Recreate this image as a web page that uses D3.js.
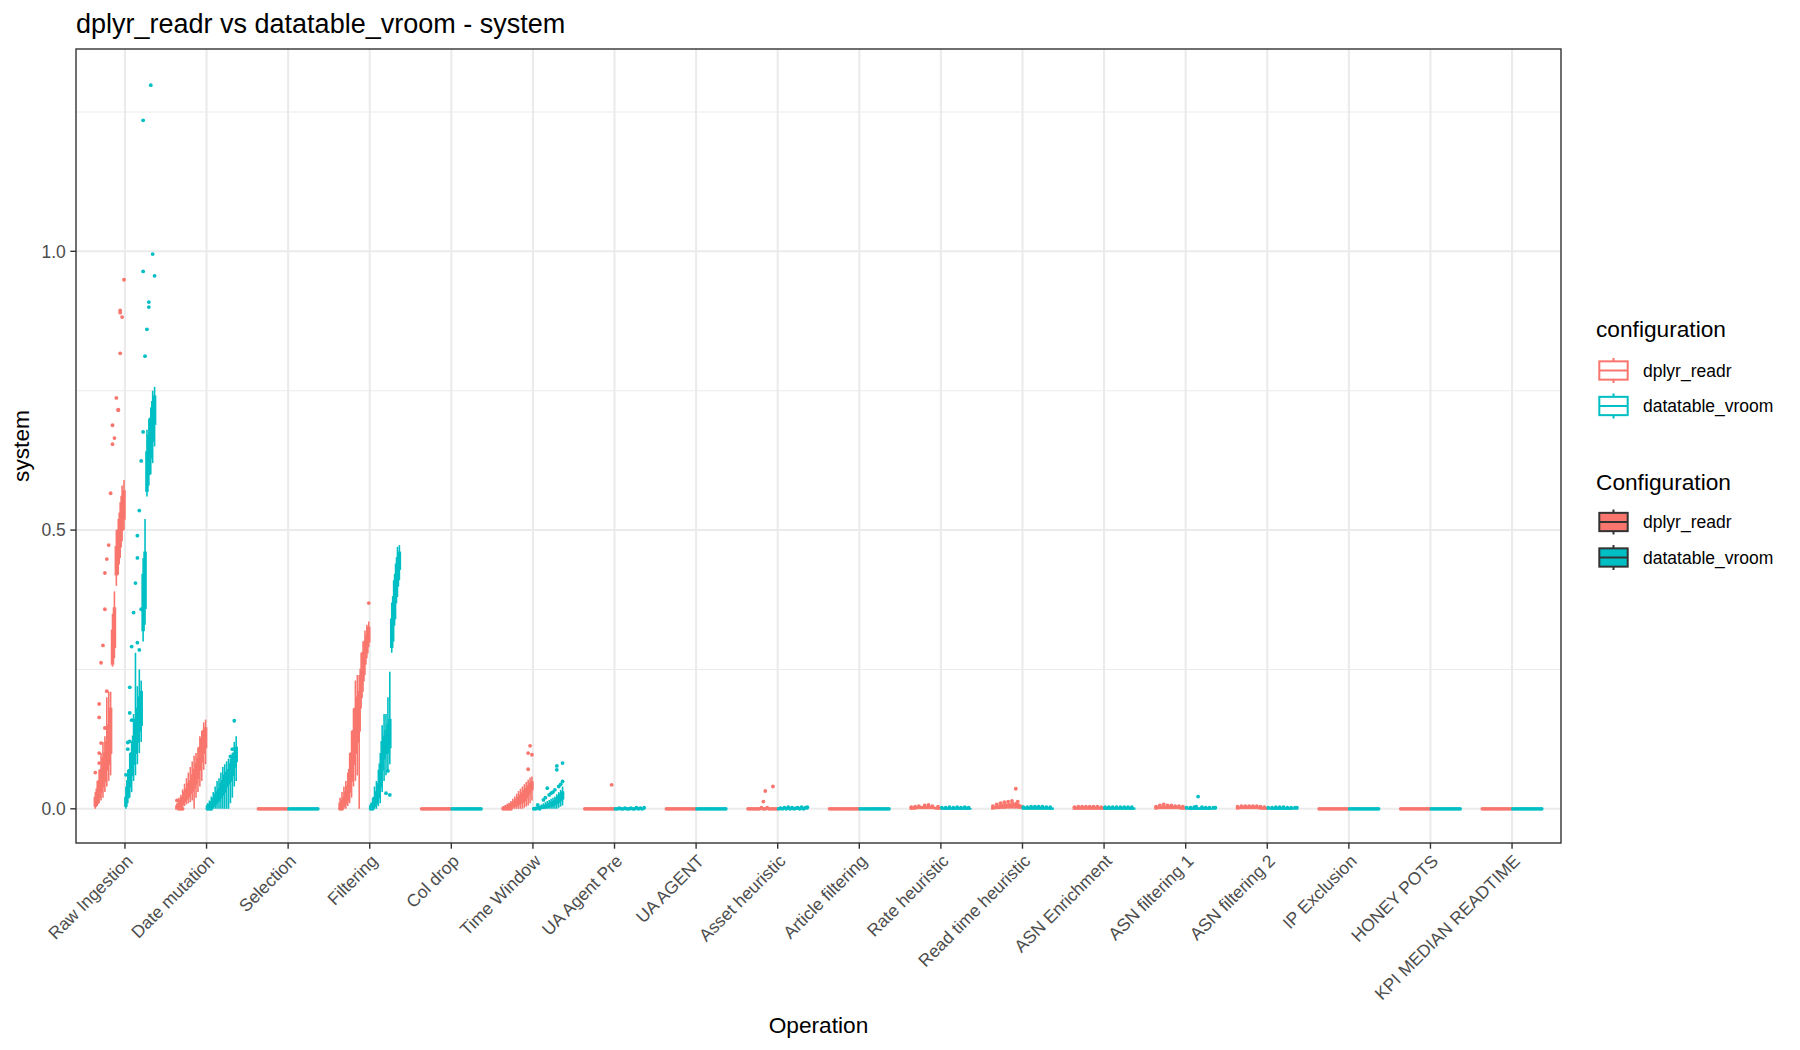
<!DOCTYPE html>
<html><head><meta charset="utf-8">
<script src="https://cdn.jsdelivr.net/npm/d3@7"></script>
<style>body{margin:0;background:#fff} svg text{font-family:"Liberation Sans",Arial,Helvetica,sans-serif}</style>
</head><body><svg id="chart" width="1800" height="1050"></svg>
<script>
// ---------------- data ----------------
const operations = ["Raw Ingestion","Date mutation","Selection","Filtering","Col drop","Time Window","UA Agent Pre","UA AGENT","Asset heuristic","Article filtering","Rate heuristic","Read time heuristic","ASN Enrichment","ASN filtering 1","ASN filtering 2","IP Exclusion","HONEY POTS","KPI MEDIAN READTIME"];
const configurations = ["dplyr_readr","datatable_vroom"];
const configColors = ["#F8766D","#00BFC4"];
const yMajorTicks = [0, 0.5, 1.0];
const yTickLabels = ["0.0","0.5","1.0"];
const yMinorTicks = [0.25, 0.75, 1.25];
const plotTitle = "dplyr_readr vs datatable_vroom - system";
const xTitle = "Operation";
const yTitle = "system";

// Each box: [lowerWhisker, q1, median, q3, upperWhisker, [outliers]] ; 16 runs per configuration
const dplyrBoxes = [
 /* Raw Ingestion */ [[0,0.005,0.01,0.02,0.03,[0.065]],[0.005,0.01,0.02,0.035,0.05,[]],[0.01,0.02,0.035,0.05,0.07,[0.082,0.1,0.164,0.188]],[0.015,0.03,0.05,0.07,0.1,[0.118,0.262]],[0.02,0.04,0.06,0.09,0.12,[0.293]],[0.03,0.05,0.075,0.1,0.13,[0.145,0.358,0.423]],[0.04,0.07,0.09,0.12,0.2,[0.211,0.448]],[0.05,0.08,0.11,0.15,0.21,[0.473]],[0.06,0.1,0.14,0.18,0.21,[0.566]],[0.255,0.26,0.29,0.32,0.35,[0.654,0.688]],[0.27,0.29,0.33,0.36,0.39,[0.665]],[0.4,0.42,0.44,0.47,0.5,[0.737]],[0.42,0.44,0.47,0.5,0.52,[0.715,0.716]],[0.45,0.47,0.5,0.53,0.55,[0.894,0.89,0.817]],[0.48,0.5,0.53,0.56,0.58,[0.882]],[0.5,0.52,0.55,0.57,0.59,[0.949]]],
 /* Date mutation */ [[0,0,0.002,0.005,0.01,[0.015]],[0,0.002,0.005,0.01,0.02,[0]],[0,0.005,0.01,0.015,0.025,[0]],[0.002,0.008,0.013,0.02,0.035,[0]],[0.005,0.013,0.02,0.03,0.045,[]],[0.008,0.018,0.025,0.035,0.055,[]],[0.01,0.022,0.032,0.045,0.065,[]],[0.012,0.028,0.038,0.05,0.075,[]],[0.015,0.032,0.045,0.06,0.085,[]],[0,0.038,0.052,0.07,0.095,[]],[0.02,0.045,0.06,0.08,0.1,[]],[0.03,0.055,0.072,0.09,0.11,[]],[0.04,0.07,0.09,0.11,0.13,[]],[0.05,0.085,0.105,0.125,0.14,[]],[0.07,0.1,0.12,0.14,0.155,[]],[0.08,0.11,0.13,0.145,0.16,[]]],
 /* Selection */ [[0,0,0,0,0,[0]],[0,0,0,0,0,[0]],[0,0,0,0,0,[0]],[0,0,0,0,0,[0]],[0,0,0,0,0,[0]],[0,0,0,0,0,[0]],[0,0,0,0,0,[0]],[0,0,0,0,0,[0]],[0,0,0,0,0,[0]],[0,0,0,0,0,[0]],[0,0,0,0,0,[0]],[0,0,0,0,0,[0]],[0,0,0,0,0,[0]],[0,0,0,0,0,[0]],[0,0,0,0,0,[0]],[0,0,0,0,0,[0]]],
 /* Filtering */ [[0,0,0.003,0.01,0.02,[0]],[0,0,0.006,0.015,0.03,[0]],[0,0.005,0.012,0.02,0.04,[]],[0,0.01,0.02,0.03,0.05,[]],[0.005,0.015,0.028,0.04,0.065,[]],[0.01,0.03,0.05,0.07,0.1,[]],[0.02,0.05,0.075,0.1,0.14,[]],[0.04,0.08,0.11,0.14,0.18,[]],[0.05,0.1,0.14,0.18,0.23,[]],[0.06,0.12,0.16,0.2,0.24,[]],[0,0.14,0.18,0.21,0.24,[]],[0.18,0.2,0.225,0.25,0.28,[]],[0.21,0.23,0.255,0.28,0.3,[]],[0.24,0.26,0.28,0.3,0.32,[]],[0.27,0.28,0.295,0.31,0.33,[]],[0.29,0.3,0.315,0.325,0.336,[0.369]]],
 /* Col drop */ [[0,0,0,0,0,[0]],[0,0,0,0,0,[0]],[0,0,0,0,0,[0]],[0,0,0,0,0,[0]],[0,0,0,0,0,[0]],[0,0,0,0,0,[0]],[0,0,0,0,0,[0]],[0,0,0,0,0,[0]],[0,0,0,0,0,[0]],[0,0,0,0,0,[0]],[0,0,0,0,0,[0]],[0,0,0,0,0,[0]],[0,0,0,0,0,[0]],[0,0,0,0,0,[0]],[0,0,0,0,0,[0]],[0,0,0,0,0,[0]]],
 /* Time Window */ [[0,0,0.001,0.002,0.005,[0]],[0,0,0.001,0.003,0.007,[0]],[0,0.001,0.002,0.004,0.009,[0]],[0,0.002,0.004,0.006,0.011,[0]],[0,0.003,0.005,0.008,0.014,[0]],[0,0.004,0.007,0.01,0.018,[]],[0,0.005,0.009,0.013,0.022,[]],[0,0.006,0.011,0.016,0.027,[]],[0,0.008,0.014,0.02,0.032,[]],[0,0.01,0.017,0.024,0.036,[]],[0,0.012,0.02,0.028,0.04,[]],[0.002,0.015,0.023,0.032,0.044,[]],[0.004,0.02,0.028,0.036,0.048,[]],[0.006,0.025,0.032,0.04,0.052,[0.071,0.1]],[0.01,0.03,0.037,0.045,0.056,[0.113]],[0.015,0.035,0.042,0.048,0.058,[0.097]]],
 /* UA Agent Pre */ [[0,0,0,0,0,[0]],[0,0,0,0,0,[0]],[0,0,0,0,0,[0]],[0,0,0,0,0,[0]],[0,0,0,0,0,[0]],[0,0,0,0,0,[0]],[0,0,0,0,0,[0]],[0,0,0,0,0,[0]],[0,0,0,0,0,[0]],[0,0,0,0,0,[0]],[0,0,0,0,0,[0]],[0,0,0,0,0,[0]],[0,0,0,0,0,[0]],[0,0,0,0,0,[0]],[0,0,0,0,0,[0,0.043]],[0,0,0,0,0,[0]]],
 /* UA AGENT */ [[0,0,0,0,0,[0]],[0,0,0,0,0,[0]],[0,0,0,0,0,[0]],[0,0,0,0,0,[0]],[0,0,0,0,0,[0]],[0,0,0,0,0,[0]],[0,0,0,0,0,[0]],[0,0,0,0,0,[0]],[0,0,0,0,0,[0]],[0,0,0,0,0,[0]],[0,0,0,0,0,[0]],[0,0,0,0,0,[0]],[0,0,0,0,0,[0]],[0,0,0,0,0,[0]],[0,0,0,0,0,[0]],[0,0,0,0,0,[0]]],
 /* Asset heuristic */ [[0,0,0,0,0,[0]],[0,0,0,0,0,[0]],[0,0,0,0,0,[0]],[0,0,0,0,0,[0]],[0,0,0,0,0,[0]],[0,0,0,0,0,[0]],[0,0,0,0,0,[0]],[0,0,0,0,0,[0.002]],[0,0,0,0,0,[0,0.013]],[0,0,0,0,0,[0,0.032]],[0,0,0,0,0,[0.002]],[0,0,0,0,0,[0]],[0,0,0,0,0,[0]],[0,0,0,0,0,[0,0.04]],[0,0,0,0,0,[0]],[0,0,0,0,0,[0]]],
 /* Article filtering */ [[0,0,0,0,0,[0]],[0,0,0,0,0,[0]],[0,0,0,0,0,[0]],[0,0,0,0,0,[0]],[0,0,0,0,0,[0]],[0,0,0,0,0,[0]],[0,0,0,0,0,[0]],[0,0,0,0,0,[0]],[0,0,0,0,0,[0]],[0,0,0,0,0,[0]],[0,0,0,0,0,[0]],[0,0,0,0,0,[0]],[0,0,0,0,0,[0]],[0,0,0,0,0,[0]],[0,0,0,0,0,[0]],[0,0,0,0,0,[0]]],
 /* Rate heuristic */ [[0,0,0,0.001,0.002,[0.003]],[0,0,0.001,0.002,0.003,[]],[0,0,0.001,0.002,0.003,[0.004]],[0,0.001,0.001,0.002,0.004,[]],[0,0.001,0.002,0.003,0.004,[0.005]],[0,0.001,0.002,0.003,0.004,[]],[0,0.001,0.002,0.003,0.005,[]],[0,0.001,0.002,0.003,0.005,[0.006]],[0,0.001,0.002,0.003,0.005,[]],[0,0.001,0.002,0.003,0.005,[0.007]],[0,0.001,0.002,0.003,0.004,[]],[0,0.001,0.002,0.003,0.004,[0.005]],[0,0.001,0.001,0.002,0.004,[]],[0,0,0.001,0.002,0.003,[]],[0,0,0.001,0.002,0.003,[0.004]],[0,0,0.001,0.001,0.002,[]]],
 /* Read time heuristic */ [[0,0,0.001,0.002,0.004,[0.005]],[0,0.001,0.002,0.003,0.005,[]],[0,0.001,0.002,0.004,0.006,[0.008]],[0,0.001,0.003,0.004,0.007,[]],[0,0.002,0.003,0.005,0.008,[0.01]],[0,0.002,0.004,0.006,0.009,[]],[0,0.002,0.004,0.006,0.01,[0.012]],[0,0.003,0.005,0.007,0.01,[]],[0,0.003,0.005,0.007,0.011,[0.013]],[0,0.003,0.005,0.008,0.011,[]],[0,0.003,0.006,0.008,0.012,[0.014]],[0,0.004,0.006,0.008,0.012,[]],[0,0.004,0.006,0.009,0.012,[0.036]],[0,0.003,0.005,0.008,0.011,[0.013]],[0,0.002,0.004,0.006,0.009,[]],[0,0.001,0.003,0.005,0.007,[]]],
 /* ASN Enrichment */ [[0,0,0,0.001,0.002,[0.003]],[0,0,0.001,0.001,0.002,[]],[0,0,0.001,0.002,0.003,[0.004]],[0,0,0.001,0.002,0.003,[]],[0,0,0.001,0.002,0.003,[0.004]],[0,0,0.001,0.002,0.003,[]],[0,0,0.001,0.002,0.003,[0.004]],[0,0,0.001,0.002,0.003,[]],[0,0,0.001,0.002,0.003,[0.004]],[0,0,0.001,0.002,0.003,[]],[0,0,0.001,0.002,0.003,[0.004]],[0,0,0.001,0.002,0.003,[]],[0,0,0.001,0.002,0.003,[0.004]],[0,0,0.001,0.002,0.003,[]],[0,0,0.001,0.001,0.002,[0.003]],[0,0,0,0.001,0.002,[]]],
 /* ASN filtering 1 */ [[0,0,0.001,0.002,0.003,[0.004]],[0,0.001,0.001,0.002,0.004,[]],[0,0.001,0.002,0.003,0.004,[0.006]],[0,0.001,0.002,0.003,0.005,[]],[0,0.001,0.002,0.004,0.006,[0.008]],[0,0.001,0.002,0.003,0.005,[]],[0,0.001,0.002,0.003,0.005,[0.006]],[0,0.001,0.002,0.003,0.005,[]],[0,0.001,0.002,0.003,0.004,[0.006]],[0,0.001,0.002,0.003,0.004,[]],[0,0.001,0.002,0.003,0.004,[0.005]],[0,0.001,0.002,0.003,0.004,[]],[0,0.001,0.001,0.002,0.004,[0.005]],[0,0,0.001,0.002,0.003,[]],[0,0,0.001,0.002,0.003,[0.004]],[0,0,0.001,0.001,0.002,[]]],
 /* ASN filtering 2 */ [[0,0,0.001,0.002,0.003,[0.004]],[0,0.001,0.001,0.002,0.003,[]],[0,0.001,0.002,0.003,0.004,[0.005]],[0,0.001,0.002,0.003,0.004,[]],[0,0.001,0.002,0.003,0.004,[0.005]],[0,0.001,0.002,0.003,0.004,[]],[0,0.001,0.002,0.003,0.004,[0.005]],[0,0.001,0.002,0.003,0.004,[]],[0,0.001,0.002,0.003,0.004,[0.005]],[0,0.001,0.002,0.003,0.004,[]],[0,0.001,0.002,0.003,0.004,[0.005]],[0,0.001,0.001,0.002,0.003,[]],[0,0,0.001,0.002,0.003,[0.004]],[0,0,0.001,0.002,0.003,[]],[0,0,0.001,0.001,0.002,[0.003]],[0,0,0,0.001,0.002,[]]],
 /* IP Exclusion */ [[0,0,0,0,0,[0]],[0,0,0,0,0,[0]],[0,0,0,0,0,[0]],[0,0,0,0,0,[0]],[0,0,0,0,0,[0]],[0,0,0,0,0,[0]],[0,0,0,0,0,[0]],[0,0,0,0,0,[0]],[0,0,0,0,0,[0]],[0,0,0,0,0,[0]],[0,0,0,0,0,[0]],[0,0,0,0,0,[0]],[0,0,0,0,0,[0]],[0,0,0,0,0,[0]],[0,0,0,0,0,[0]],[0,0,0,0,0,[0]]],
 /* HONEY POTS */ [[0,0,0,0,0,[0]],[0,0,0,0,0,[0]],[0,0,0,0,0,[0]],[0,0,0,0,0,[0]],[0,0,0,0,0,[0]],[0,0,0,0,0,[0]],[0,0,0,0,0,[0]],[0,0,0,0,0,[0]],[0,0,0,0,0,[0]],[0,0,0,0,0,[0]],[0,0,0,0,0,[0]],[0,0,0,0,0,[0]],[0,0,0,0,0,[0]],[0,0,0,0,0,[0]],[0,0,0,0,0,[0]],[0,0,0,0,0,[0]]],
 /* KPI MEDIAN READTIME */ [[0,0,0,0,0,[0]],[0,0,0,0,0,[0]],[0,0,0,0,0,[0]],[0,0,0,0,0,[0]],[0,0,0,0,0,[0]],[0,0,0,0,0,[0]],[0,0,0,0,0,[0]],[0,0,0,0,0,[0]],[0,0,0,0,0,[0]],[0,0,0,0,0,[0]],[0,0,0,0,0,[0]],[0,0,0,0,0,[0]],[0,0,0,0,0,[0]],[0,0,0,0,0,[0]],[0,0,0,0,0,[0]],[0,0,0,0,0,[0]]]
];

const vroomBoxes = [
 /* Raw Ingestion */ [[0,0.005,0.01,0.02,0.04,[0.061]],[0.01,0.02,0.03,0.05,0.07,[0.107,0.119]],[0.02,0.04,0.05,0.07,0.1,[0.121,0.172,0.218]],[0.03,0.06,0.08,0.1,0.12,[0.159,0.291]],[0.05,0.08,0.1,0.13,0.17,[0.352]],[0.06,0.1,0.13,0.16,0.28,[0.405]],[0.08,0.12,0.15,0.18,0.22,[0.298,0.45,0.49]],[0.1,0.14,0.17,0.2,0.25,[0.285,0.535]],[0.12,0.15,0.18,0.21,0.23,[0.358,0.624]],[0.3,0.32,0.36,0.42,0.45,[0.676,0.964,1.235]],[0.33,0.36,0.41,0.46,0.52,[0.812]],[0.56,0.57,0.6,0.64,0.68,[0.86]],[0.58,0.6,0.64,0.67,0.7,[0.9,0.909]],[0.6,0.63,0.66,0.7,0.72,[1.298]],[0.62,0.66,0.69,0.73,0.75,[0.995]],[0.65,0.69,0.72,0.74,0.757,[0.956]]],
 /* Date mutation */ [[0,0,0.002,0.005,0.01,[0]],[0,0,0.004,0.008,0.015,[0]],[0,0.002,0.006,0.012,0.022,[0]],[0,0.005,0.01,0.018,0.03,[]],[0,0.008,0.015,0.025,0.04,[]],[0,0.012,0.02,0.03,0.05,[]],[0,0.015,0.025,0.035,0.055,[]],[0,0.02,0.032,0.045,0.065,[]],[0,0.025,0.038,0.05,0.075,[]],[0,0.03,0.045,0.06,0.08,[]],[0,0.04,0.052,0.065,0.085,[]],[0,0.045,0.058,0.07,0.09,[]],[0.01,0.05,0.065,0.08,0.09,[0.094]],[0.02,0.06,0.075,0.09,0.1,[0.107]],[0.04,0.075,0.088,0.1,0.12,[0.158]],[0.05,0.085,0.1,0.11,0.13,[]]],
 /* Selection */ [[0,0,0,0,0,[0]],[0,0,0,0,0,[0]],[0,0,0,0,0,[0]],[0,0,0,0,0,[0]],[0,0,0,0,0,[0]],[0,0,0,0,0,[0]],[0,0,0,0,0,[0]],[0,0,0,0,0,[0]],[0,0,0,0,0,[0]],[0,0,0,0,0,[0]],[0,0,0,0,0,[0]],[0,0,0,0,0,[0]],[0,0,0,0,0,[0]],[0,0,0,0,0,[0]],[0,0,0,0,0,[0]],[0,0,0,0,0,[0]]],
 /* Filtering */ [[0,0,0.002,0.005,0.01,[0]],[0,0,0.004,0.01,0.02,[0]],[0,0.005,0.01,0.02,0.04,[]],[0,0.01,0.02,0.03,0.05,[]],[0.005,0.02,0.03,0.045,0.07,[]],[0.01,0.04,0.06,0.08,0.1,[]],[0.03,0.07,0.09,0.12,0.15,[]],[0.05,0.09,0.11,0.13,0.17,[]],[0.06,0.1,0.12,0.14,0.17,[0.028]],[0.07,0.1,0.125,0.15,0.2,[0.068]],[0.08,0.11,0.135,0.16,0.246,[0.025]],[0.28,0.29,0.315,0.34,0.37,[]],[0.3,0.33,0.355,0.38,0.41,[]],[0.34,0.37,0.395,0.42,0.44,[]],[0.38,0.4,0.425,0.45,0.47,[]],[0.41,0.43,0.45,0.46,0.473,[]]],
 /* Col drop */ [[0,0,0,0,0,[0]],[0,0,0,0,0,[0]],[0,0,0,0,0,[0]],[0,0,0,0,0,[0]],[0,0,0,0,0,[0]],[0,0,0,0,0,[0]],[0,0,0,0,0,[0]],[0,0,0,0,0,[0]],[0,0,0,0,0,[0]],[0,0,0,0,0,[0]],[0,0,0,0,0,[0]],[0,0,0,0,0,[0]],[0,0,0,0,0,[0]],[0,0,0,0,0,[0]],[0,0,0,0,0,[0]],[0,0,0,0,0,[0]]],
 /* Time Window */ [[0,0,0,0.001,0.003,[0]],[0,0,0.001,0.002,0.004,[0]],[0,0,0.001,0.002,0.005,[0.007]],[0,0.001,0.002,0.003,0.006,[0]],[0,0.001,0.002,0.004,0.008,[]],[0,0.002,0.003,0.005,0.01,[0.016]],[0,0.002,0.004,0.006,0.012,[0.02]],[0,0.003,0.005,0.008,0.014,[0.037]],[0,0.004,0.006,0.009,0.016,[0.025]],[0,0.005,0.008,0.011,0.018,[0.028]],[0,0.006,0.009,0.013,0.02,[0.03]],[0,0.008,0.011,0.015,0.022,[0.034]],[0,0.01,0.014,0.018,0.026,[0.07,0.077]],[0.002,0.012,0.017,0.022,0.03,[0.04]],[0.004,0.015,0.02,0.026,0.034,[0.044]],[0.006,0.018,0.024,0.03,0.04,[0.049,0.082]]],
 /* UA Agent Pre */ [[0,0,0,0,0,[0]],[0,0,0,0,0,[0]],[0,0,0,0,0,[0.001]],[0,0,0,0,0,[0]],[0,0,0,0,0,[0]],[0,0,0,0,0,[0.001]],[0,0,0,0,0,[0]],[0,0,0,0,0,[0]],[0,0,0,0,0,[0.001]],[0,0,0,0,0,[0]],[0,0,0,0,0,[0]],[0,0,0,0,0,[0.002]],[0,0,0,0,0,[0]],[0,0,0,0,0,[0.001]],[0,0,0,0,0,[0]],[0,0,0,0,0,[0.002]]],
 /* UA AGENT */ [[0,0,0,0,0,[0]],[0,0,0,0,0,[0]],[0,0,0,0,0,[0]],[0,0,0,0,0,[0]],[0,0,0,0,0,[0]],[0,0,0,0,0,[0]],[0,0,0,0,0,[0]],[0,0,0,0,0,[0]],[0,0,0,0,0,[0]],[0,0,0,0,0,[0]],[0,0,0,0,0,[0]],[0,0,0,0,0,[0]],[0,0,0,0,0,[0]],[0,0,0,0,0,[0]],[0,0,0,0,0,[0]],[0,0,0,0,0,[0]]],
 /* Asset heuristic */ [[0,0,0,0,0,[0]],[0,0,0,0,0,[0.001]],[0,0,0,0,0,[0]],[0,0,0,0,0,[0.002]],[0,0,0,0,0,[0]],[0,0,0,0,0,[0.003]],[0,0,0,0,0,[0]],[0,0,0,0,0,[0.002]],[0,0,0,0,0,[0]],[0,0,0,0,0,[0.001]],[0,0,0,0,0,[0.002]],[0,0,0,0,0,[0]],[0,0,0,0,0,[0.003]],[0,0,0,0,0,[0]],[0,0,0,0,0,[0.002]],[0,0,0,0,0,[0.003]]],
 /* Article filtering */ [[0,0,0,0,0,[0]],[0,0,0,0,0,[0]],[0,0,0,0,0,[0]],[0,0,0,0,0,[0]],[0,0,0,0,0,[0]],[0,0,0,0,0,[0]],[0,0,0,0,0,[0]],[0,0,0,0,0,[0]],[0,0,0,0,0,[0]],[0,0,0,0,0,[0]],[0,0,0,0,0,[0]],[0,0,0,0,0,[0]],[0,0,0,0,0,[0]],[0,0,0,0,0,[0]],[0,0,0,0,0,[0]],[0,0,0,0,0,[0]]],
 /* Rate heuristic */ [[0,0,0,0,0.001,[0.002]],[0,0,0,0.001,0.001,[]],[0,0,0,0.001,0.002,[0.002]],[0,0,0,0.001,0.001,[]],[0,0,0.001,0.001,0.002,[0.003]],[0,0,0,0.001,0.001,[]],[0,0,0,0.001,0.002,[0.002]],[0,0,0,0.001,0.001,[]],[0,0,0.001,0.001,0.002,[0.003]],[0,0,0,0.001,0.001,[]],[0,0,0,0.001,0.002,[0.002]],[0,0,0,0.001,0.001,[]],[0,0,0.001,0.001,0.002,[0.003]],[0,0,0,0.001,0.001,[]],[0,0,0,0.001,0.002,[0.002]],[0,0,0,0,0.001,[]]],
 /* Read time heuristic */ [[0,0,0,0.001,0.002,[0.003]],[0,0,0.001,0.001,0.002,[]],[0,0,0.001,0.001,0.002,[0.003]],[0,0,0.001,0.002,0.003,[]],[0,0,0.001,0.002,0.003,[0.004]],[0,0,0.001,0.002,0.003,[]],[0,0,0.001,0.002,0.003,[0.004]],[0,0,0.001,0.002,0.003,[]],[0,0,0.001,0.002,0.003,[0.004]],[0,0,0.001,0.002,0.003,[]],[0,0,0.001,0.002,0.003,[0.004]],[0,0,0.001,0.001,0.002,[]],[0,0,0.001,0.001,0.002,[0.003]],[0,0,0.001,0.001,0.002,[]],[0,0,0,0.001,0.002,[0.003]],[0,0,0,0.001,0.001,[]]],
 /* ASN Enrichment */ [[0,0,0,0.001,0.002,[0.003]],[0,0,0,0.001,0.001,[]],[0,0,0.001,0.001,0.002,[0.003]],[0,0,0,0.001,0.002,[]],[0,0,0.001,0.001,0.002,[0.003]],[0,0,0,0.001,0.002,[]],[0,0,0.001,0.001,0.002,[0.003]],[0,0,0,0.001,0.002,[]],[0,0,0.001,0.001,0.002,[0.003]],[0,0,0,0.001,0.002,[]],[0,0,0.001,0.001,0.002,[0.003]],[0,0,0,0.001,0.002,[]],[0,0,0.001,0.001,0.002,[0.003]],[0,0,0,0.001,0.002,[]],[0,0,0,0.001,0.002,[0.003]],[0,0,0,0.001,0.001,[]]],
 /* ASN filtering 1 */ [[0,0,0,0,0.001,[0.002]],[0,0,0,0,0.001,[]],[0,0,0,0.001,0.001,[0.002]],[0,0,0,0.001,0.002,[]],[0,0,0,0.001,0.002,[0.003]],[0,0,0,0.001,0.002,[0.004]],[0,0,0,0.001,0.002,[0.022]],[0,0,0,0.001,0.002,[]],[0,0,0,0.001,0.002,[0.003]],[0,0,0,0.001,0.001,[]],[0,0,0,0.001,0.001,[0.002]],[0,0,0,0.001,0.001,[]],[0,0,0,0.001,0.001,[0.002]],[0,0,0,0,0.001,[]],[0,0,0,0,0.001,[0.002]],[0,0,0,0,0.001,[0.002]]],
 /* ASN filtering 2 */ [[0,0,0,0,0.001,[0.002]],[0,0,0,0,0.001,[]],[0,0,0,0.001,0.001,[0.002]],[0,0,0,0.001,0.002,[]],[0,0,0,0.001,0.002,[0.003]],[0,0,0,0.001,0.002,[]],[0,0,0,0.001,0.002,[0.003]],[0,0,0,0.001,0.002,[]],[0,0,0,0.001,0.002,[0.003]],[0,0,0,0.001,0.001,[]],[0,0,0,0.001,0.001,[0.002]],[0,0,0,0.001,0.001,[]],[0,0,0,0.001,0.001,[0.002]],[0,0,0,0,0.001,[]],[0,0,0,0,0.001,[0.002]],[0,0,0,0,0.001,[0.002]]],
 /* IP Exclusion */ [[0,0,0,0,0,[0]],[0,0,0,0,0,[0]],[0,0,0,0,0,[0]],[0,0,0,0,0,[0]],[0,0,0,0,0,[0]],[0,0,0,0,0,[0]],[0,0,0,0,0,[0]],[0,0,0,0,0,[0]],[0,0,0,0,0,[0]],[0,0,0,0,0,[0]],[0,0,0,0,0,[0]],[0,0,0,0,0,[0]],[0,0,0,0,0,[0]],[0,0,0,0,0,[0]],[0,0,0,0,0,[0]],[0,0,0,0,0,[0]]],
 /* HONEY POTS */ [[0,0,0,0,0,[0]],[0,0,0,0,0,[0]],[0,0,0,0,0,[0]],[0,0,0,0,0,[0]],[0,0,0,0,0,[0]],[0,0,0,0,0,[0]],[0,0,0,0,0,[0]],[0,0,0,0,0,[0]],[0,0,0,0,0,[0]],[0,0,0,0,0,[0]],[0,0,0,0,0,[0]],[0,0,0,0,0,[0]],[0,0,0,0,0,[0]],[0,0,0,0,0,[0]],[0,0,0,0,0,[0]],[0,0,0,0,0,[0]]],
 /* KPI MEDIAN READTIME */ [[0,0,0,0,0,[0]],[0,0,0,0,0,[0]],[0,0,0,0,0,[0]],[0,0,0,0,0,[0]],[0,0,0,0,0,[0]],[0,0,0,0,0,[0]],[0,0,0,0,0,[0]],[0,0,0,0,0,[0]],[0,0,0,0,0,[0]],[0,0,0,0,0,[0]],[0,0,0,0,0,[0]],[0,0,0,0,0,[0]],[0,0,0,0,0,[0]],[0,0,0,0,0,[0]],[0,0,0,0,0,[0]],[0,0,0,0,0,[0]]]
];

// ---------------- layout ----------------
const W = 1800, H = 1050;
const panel = {left: 76, right: 1561, top: 49, bottom: 843};
const tickLen = 5.7;
const svg = d3.select("#chart");
svg.append("rect").attr("width", W).attr("height", H).attr("fill", "#fff");

const boxSets = [dplyrBoxes, vroomBoxes];
const runsPerConfig = dplyrBoxes[0].length;

const records = [];
boxSets.forEach((set, ci) => set.forEach((boxes, oi) => boxes.forEach((b, ri) => {
  records.push({op: operations[oi], cfg: ci, group: ci * runsPerConfig + ri,
    lo: b[0], q1: b[1], med: b[2], q3: b[3], hi: b[4], out: b[5] || []});
})));

const allVals = [];
records.forEach(r => { allVals.push(r.lo, r.hi); r.out.forEach(v => allVals.push(v)); });
const vMin = d3.min(allVals), vMax = d3.max(allVals), span = vMax - vMin;

const x = d3.scaleBand().domain(operations).range([panel.left, panel.right]).paddingInner(0).paddingOuter(0.1);
const step = x.step();
const xg = d3.scaleBand().domain(d3.range(runsPerConfig * 2)).range([-0.375 * step, 0.375 * step]);
const y = d3.scaleLinear().domain([vMin - 0.05 * span, vMax + 0.05 * span]).range([panel.bottom + 2, panel.top]);
const color = d3.scaleOrdinal().domain([0, 1]).range(configColors);

const cx = (op) => x(op) + x.bandwidth() / 2;

// grid
const grid = svg.append("g");
grid.selectAll("line.minor").data(yMinorTicks).join("line")
  .attr("x1", panel.left).attr("x2", panel.right).attr("y1", d => y(d)).attr("y2", d => y(d))
  .attr("stroke", "#EBEBEB").attr("stroke-width", 1.1);
grid.selectAll("line.major").data(yMajorTicks).join("line")
  .attr("x1", panel.left).attr("x2", panel.right).attr("y1", d => y(d)).attr("y2", d => y(d))
  .attr("stroke", "#EBEBEB").attr("stroke-width", 2.1);
grid.selectAll("line.vmajor").data(operations).join("line")
  .attr("x1", d => cx(d)).attr("x2", d => cx(d)).attr("y1", panel.top).attr("y2", panel.bottom)
  .attr("stroke", "#EBEBEB").attr("stroke-width", 2.1);

// boxes
const bw = xg.bandwidth();
const lw = 1.6;
const marks = svg.append("g");
const gBox = marks.selectAll("g.box").data(records).join("g")
  .attr("transform", d => `translate(${cx(d.op) + xg(d.group) + xg.bandwidth() / 2},0)`);
gBox.append("line").attr("x1", 0).attr("x2", 0).attr("y1", d => y(d.lo)).attr("y2", d => y(d.q1))
  .attr("stroke", d => color(d.cfg)).attr("stroke-width", lw);
gBox.append("line").attr("x1", 0).attr("x2", 0).attr("y1", d => y(d.q3)).attr("y2", d => y(d.hi))
  .attr("stroke", d => color(d.cfg)).attr("stroke-width", lw);
gBox.append("rect").attr("x", -bw / 2).attr("width", bw)
  .attr("y", d => y(d.q3)).attr("height", d => Math.max(0, y(d.q1) - y(d.q3)))
  .attr("fill", d => color(d.cfg)).attr("stroke", d => color(d.cfg)).attr("stroke-width", lw);
gBox.append("line").attr("x1", -bw / 2).attr("x2", bw / 2).attr("y1", d => y(d.med)).attr("y2", d => y(d.med))
  .attr("stroke", d => color(d.cfg)).attr("stroke-width", lw);
gBox.selectAll("circle").data(d => d.out.map(v => ({v, cfg: d.cfg}))).join("circle")
  .attr("cx", 0).attr("cy", d => y(d.v)).attr("r", 1.9).attr("fill", d => color(d.cfg));

// panel border
svg.append("rect").attr("x", panel.left).attr("y", panel.top)
  .attr("width", panel.right - panel.left).attr("height", panel.bottom - panel.top)
  .attr("fill", "none").attr("stroke", "#333333").attr("stroke-width", 1.4);

// y axis
const yAxis = svg.append("g");
yAxis.selectAll("line").data(yMajorTicks).join("line")
  .attr("x1", panel.left - tickLen).attr("x2", panel.left).attr("y1", d => y(d)).attr("y2", d => y(d))
  .attr("stroke", "#333333").attr("stroke-width", 1.4);
yAxis.selectAll("text").data(yMajorTicks).join("text")
  .attr("x", panel.left - tickLen - 4.5).attr("y", d => y(d) + 6.3)
  .attr("text-anchor", "end").attr("fill", "#4D4D4D").attr("font-size", 17.5)
  .text((d, i) => yTickLabels[i]);

// x axis
const xAxis = svg.append("g");
xAxis.selectAll("line").data(operations).join("line")
  .attr("x1", d => cx(d)).attr("x2", d => cx(d)).attr("y1", panel.bottom).attr("y2", panel.bottom + tickLen)
  .attr("stroke", "#333333").attr("stroke-width", 1.4);
xAxis.selectAll("text").data(operations).join("text")
  .attr("transform", d => `translate(${cx(d)},${panel.bottom + tickLen + 4.5}) rotate(-45)`)
  .attr("text-anchor", "end").attr("dy", "0.72em").attr("fill", "#4D4D4D").attr("font-size", 17.5)
  .text(d => d);

// titles
svg.append("text").attr("x", panel.left).attr("y", 33).attr("font-size", 27).attr("fill", "#000").text(plotTitle);
svg.append("text").attr("x", (panel.left + panel.right) / 2).attr("y", 1033).attr("text-anchor", "middle")
  .attr("font-size", 22.7).attr("fill", "#000").text(xTitle);
svg.append("text").attr("transform", `translate(29,${(panel.top + panel.bottom) / 2}) rotate(-90)`)
  .attr("text-anchor", "middle").attr("font-size", 22.7).attr("fill", "#000").text(yTitle);

// legends
const keyCx = 1613.5, keyW = 28.4, keyH = 18.3, whisk = 12.5, labelX = 1643;
function legend(titleText, titleY, keyYs, filled) {
  const g = svg.append("g");
  g.append("text").attr("x", 1596).attr("y", titleY).attr("font-size", 22.7).attr("fill", "#000").text(titleText);
  configurations.forEach((c, i) => {
    const cy = keyYs[i];
    const stroke = filled ? "#333333" : color(i);
    const fill = filled ? color(i) : "#ffffff";
    g.append("line").attr("x1", keyCx).attr("x2", keyCx).attr("y1", cy - whisk).attr("y2", cy + whisk)
      .attr("stroke", stroke).attr("stroke-width", 2);
    g.append("rect").attr("x", keyCx - keyW / 2).attr("y", cy - keyH / 2).attr("width", keyW).attr("height", keyH)
      .attr("fill", fill).attr("stroke", stroke).attr("stroke-width", 2);
    g.append("line").attr("x1", keyCx - keyW / 2).attr("x2", keyCx + keyW / 2).attr("y1", cy).attr("y2", cy)
      .attr("stroke", stroke).attr("stroke-width", 2);
    g.append("text").attr("x", labelX).attr("y", cy + 6.3).attr("font-size", 17.5).attr("fill", "#000").text(c);
  });
}
legend("configuration", 337, [370.5, 406], false);
legend("Configuration", 489.5, [522, 557.5], true);
</script>
</body></html>
